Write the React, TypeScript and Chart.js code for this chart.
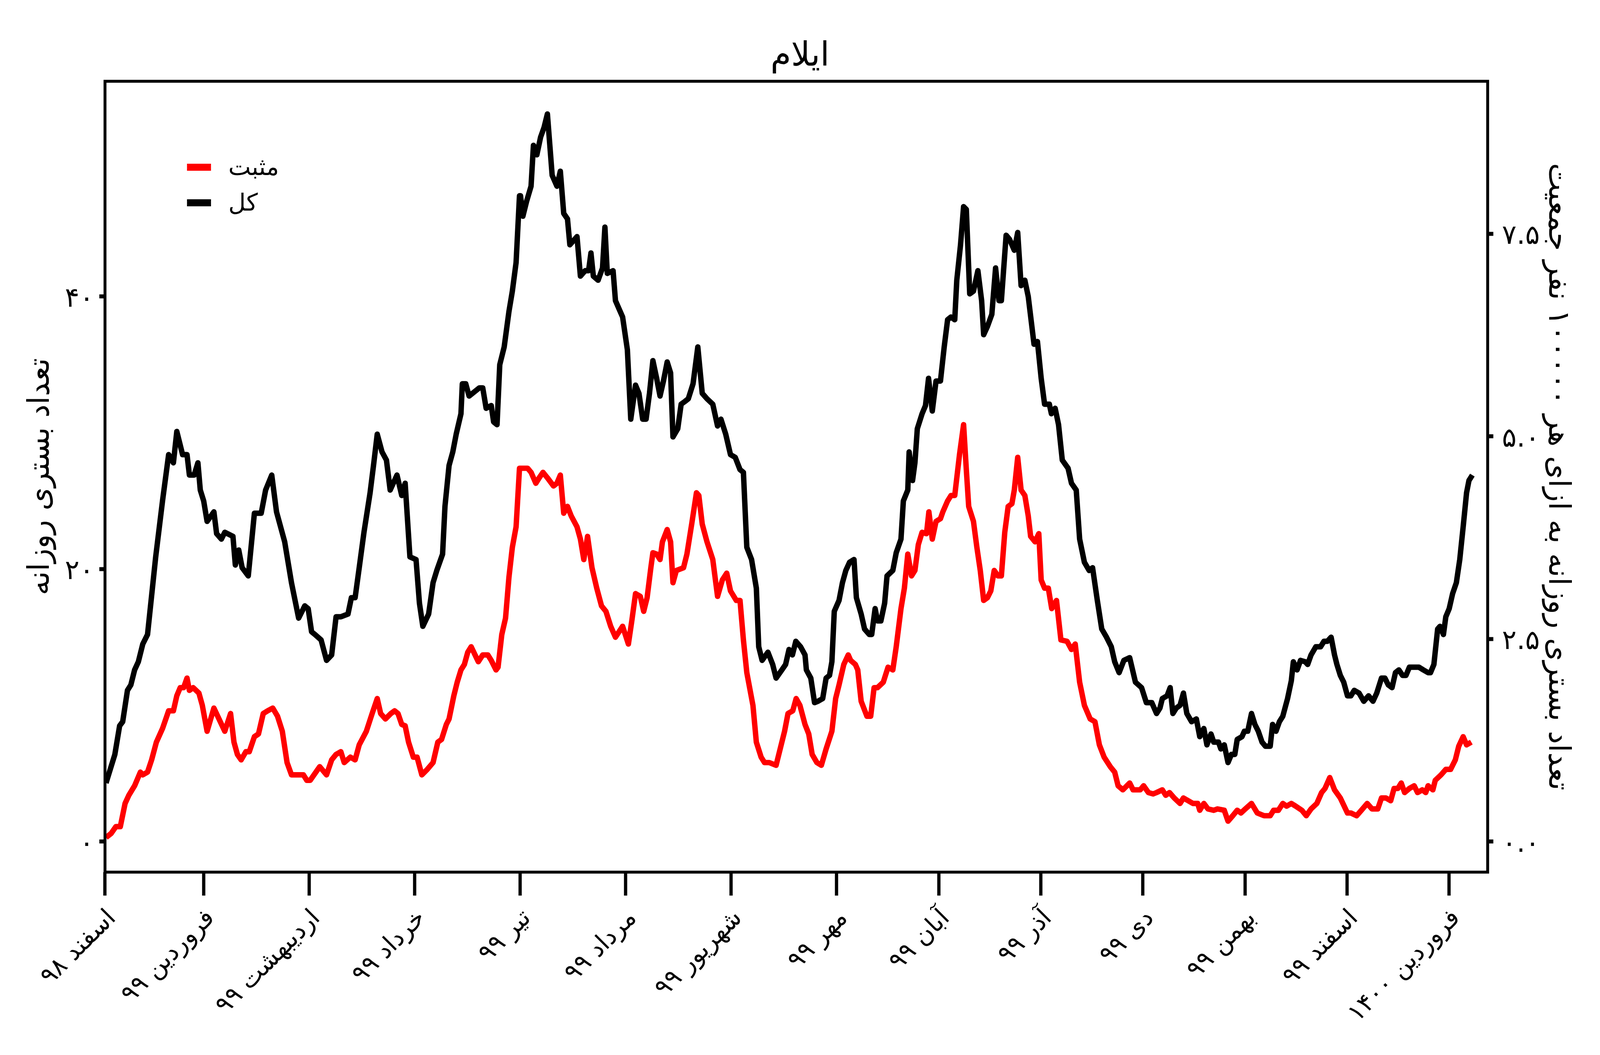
import React, { useEffect, useRef } from 'react';
import Chart from 'chart.js/auto';

const FONT = '"DejaVu Sans", sans-serif';

// days counted from 1 Esfand 1398
const monthStartDays = [0, 29, 60, 91, 122, 153, 184, 215, 245, 275, 305, 335, 365, 395];
const monthLabels = [
  'اسفند ۹۸', 'فروردین ۹۹', 'اردیبهشت ۹۹', 'خرداد ۹۹', 'تیر ۹۹', 'مرداد ۹۹', 'شهریور ۹۹',
  'مهر ۹۹', 'آبان ۹۹', 'آذر ۹۹', 'دی ۹۹', 'بهمن ۹۹', 'اسفند ۹۹', 'فروردین ۱۴۰۰',
];

const countTicks = [0, 20, 40];
const countTickLabels = ['۰', '۲۰', '۴۰'];
const rateTicks = [0, 2.5, 5, 7.5];
const rateTickLabels = ['۰.۰', '۲.۵', '۵.۰', '۷.۵'];

const seriesLabels = ['مثبت', 'کل'];
const seriesColors = ['#ff0000', '#000000'];

// [day, daily hospitalised]
const positivePoints: [number, number][] = [
  [0.3, 0.3], [1.8, 0.6], [3.2, 1.1], [4.5, 1.1], [5.9, 2.8], [7.0, 3.4], [8.7, 4.1], [10.4, 5.1],
  [11.1, 4.9], [12.5, 5.1], [13.7, 6.0], [15.1, 7.3], [16.9, 8.3], [18.7, 9.6], [20.1, 9.6], [21.1, 10.7],
  [22.1, 11.3], [23.1, 11.3], [24.1, 12.0], [24.8, 11.1], [25.9, 11.3], [27.6, 10.9], [28.6, 10.0], [30.0, 8.1],
  [32.0, 9.8], [33.5, 9.0], [35.2, 8.1], [36.9, 9.4], [37.9, 7.3], [38.9, 6.4], [40.0, 6.0], [41.4, 6.6],
  [42.4, 6.6], [43.9, 7.7], [45.1, 7.9], [46.5, 9.4], [47.8, 9.6], [49.3, 9.8], [50.7, 9.2], [52.1, 8.1],
  [53.5, 5.8], [54.8, 4.9], [56.9, 4.9], [58.3, 4.9], [59.3, 4.5], [60.3, 4.5], [63.1, 5.5], [65.1, 4.9],
  [66.6, 6.0], [67.9, 6.4], [69.3, 6.6], [70.3, 5.8], [72.1, 6.2], [73.5, 6.0], [74.7, 7.1], [76.8, 8.1],
  [78.5, 9.4], [80.0, 10.5], [81.0, 9.4], [82.4, 9.0], [84.0, 9.4], [85.1, 9.6], [86.1, 9.4], [87.2, 8.6],
  [88.2, 8.5], [89.2, 7.3], [90.6, 6.2], [91.7, 6.2], [93.1, 4.9], [94.7, 5.3], [96.4, 5.8], [97.8, 7.3],
  [98.9, 7.5], [100.3, 8.6], [101.1, 9.0], [102.5, 10.7], [103.5, 11.7], [104.6, 12.6], [105.6, 13.0], [106.6, 13.9],
  [107.6, 14.3], [109.7, 13.2], [111.0, 13.7], [112.5, 13.7], [113.5, 13.3], [114.9, 12.6], [115.5, 12.8], [116.6, 15.2],
  [117.7, 16.4], [118.7, 19.4], [119.7, 21.6], [120.8, 23.1], [121.8, 27.4], [123.2, 27.4], [124.2, 27.4], [125.2, 27.1],
  [126.6, 26.3], [127.6, 26.7], [128.7, 27.1], [130.0, 26.7], [131.8, 26.1], [132.8, 26.3], [133.8, 26.9], [134.8, 24.1],
  [135.9, 24.6], [137.0, 23.9], [138.7, 23.1], [139.7, 22.2], [140.7, 20.7], [141.8, 22.4], [143.1, 20.1], [144.5, 18.6],
  [145.9, 17.3], [147.2, 16.9], [148.6, 15.8], [150.0, 15.0], [152.1, 15.8], [153.8, 14.5], [154.8, 16.2], [155.9, 18.2],
  [157.3, 18.0], [158.3, 16.9], [159.3, 17.9], [160.4, 20.1], [161.0, 21.2], [162.1, 21.1], [163.1, 20.7], [163.8, 22.0],
  [165.2, 22.9], [166.2, 22.0], [166.9, 19.0], [167.9, 19.9], [170.0, 20.1], [171.0, 21.1], [172.4, 23.3], [173.8, 25.6],
  [174.5, 25.4], [175.5, 23.3], [176.9, 22.0], [178.6, 20.7], [180.0, 18.0], [181.4, 19.2], [182.7, 19.7], [183.8, 18.4],
  [185.5, 17.7], [186.6, 17.7], [187.6, 14.8], [188.6, 12.4], [190.4, 10.0], [191.4, 7.3], [192.8, 6.2], [193.8, 5.8],
  [195.2, 5.8], [197.2, 5.6], [198.6, 7.0], [199.7, 8.1], [200.7, 9.4], [202.1, 9.6], [203.1, 10.5], [204.2, 10.0],
  [205.7, 8.6], [206.8, 7.9], [207.8, 6.4], [209.2, 5.8], [210.5, 5.6], [211.9, 6.8], [213.6, 8.1], [214.7, 10.5],
  [215.7, 11.5], [217.1, 13.0], [218.4, 13.7], [219.1, 13.3], [220.5, 13.0], [221.2, 12.6], [222.2, 10.3], [223.9, 9.2],
  [225.0, 9.2], [226.0, 11.3], [227.0, 11.3], [228.7, 11.7], [230.1, 12.8], [231.5, 12.6], [232.5, 14.3], [233.9, 17.1],
  [234.9, 18.6], [235.9, 21.1], [237.0, 19.5], [238.0, 19.9], [239.0, 21.8], [240.1, 22.7], [241.4, 22.6], [242.1, 24.2],
  [243.1, 22.2], [244.2, 23.5], [245.5, 23.7], [246.2, 24.2], [247.6, 25.0], [248.6, 25.4], [249.7, 25.4], [251.1, 28.4],
  [252.3, 30.6], [253.1, 27.3], [253.8, 24.6], [255.2, 23.5], [256.2, 21.6], [257.2, 19.9], [258.2, 17.7], [259.3, 17.9],
  [260.3, 18.4], [261.3, 19.9], [262.4, 19.5], [263.4, 19.5], [264.4, 22.7], [265.4, 24.6], [266.5, 24.8], [267.2, 25.8],
  [268.2, 28.2], [269.2, 25.8], [270.3, 25.4], [271.3, 23.9], [272.0, 22.4], [273.3, 22.0], [274.4, 22.6], [275.1, 19.2],
  [276.1, 18.6], [277.2, 18.6], [278.2, 17.1], [279.6, 17.7], [280.9, 14.8], [282.7, 14.7], [284.0, 14.1], [285.1, 14.5],
  [286.4, 11.7], [287.8, 10.0], [289.5, 9.0], [290.9, 8.8], [292.2, 7.1], [293.6, 6.2], [295.4, 5.5], [296.7, 5.1],
  [297.7, 4.1], [299.1, 3.8], [301.1, 4.3], [302.1, 3.8], [304.2, 3.8], [305.2, 4.1], [306.6, 3.6], [308.0, 3.5],
  [309.0, 3.6], [310.7, 3.8], [311.7, 3.4], [312.8, 3.6], [314.2, 3.2], [315.9, 2.8], [316.9, 3.2], [318.3, 3.0],
  [319.7, 2.8], [321.1, 2.8], [321.7, 2.3], [322.9, 2.8], [324.1, 2.4], [325.8, 2.3], [326.9, 2.4], [328.9, 2.3],
  [330.0, 1.5], [331.4, 1.9], [332.7, 2.3], [333.8, 2.1], [335.1, 2.4], [336.9, 2.8], [338.6, 2.1], [340.6, 1.9],
  [342.4, 1.9], [343.4, 2.3], [344.8, 2.3], [346.1, 2.8], [347.2, 2.6], [348.6, 2.8], [349.9, 2.6], [351.7, 2.3],
  [353.0, 1.9], [354.4, 2.4], [356.1, 2.8], [357.5, 3.6], [358.5, 3.9], [359.9, 4.7], [361.3, 3.8], [363.0, 3.2],
  [365.1, 2.1], [366.1, 2.1], [367.8, 1.9], [369.2, 2.3], [370.9, 2.8], [372.3, 2.4], [374.0, 2.4], [375.1, 3.2],
  [376.4, 3.2], [377.8, 3.0], [378.8, 3.9], [379.9, 3.9], [380.9, 4.3], [381.9, 3.6], [383.3, 3.9], [384.7, 4.1],
  [385.7, 3.6], [387.1, 3.8], [388.1, 3.6], [388.8, 4.1], [390.2, 3.8], [390.9, 4.5], [392.6, 4.9], [394.0, 5.3],
  [395.4, 5.3], [396.8, 6.0], [397.8, 7.0], [399.1, 7.7], [400.1, 7.1], [401.5, 7.3],
];

const totalPoints: [number, number][] = [
  [0.3, 4.3], [2.9, 6.4], [4.3, 8.5], [5.2, 8.8], [6.6, 11.1], [7.6, 11.5], [8.7, 12.6], [9.8, 13.2],
  [11.1, 14.5], [12.5, 15.2], [14.9, 20.9], [16.9, 25.0], [18.7, 28.4], [20.1, 27.8], [21.1, 30.1], [22.8, 28.4],
  [24.1, 28.4], [24.8, 26.9], [26.2, 26.9], [27.3, 27.8], [28.0, 25.8], [29.0, 25.0], [30.0, 23.5], [32.0, 24.2],
  [32.8, 22.6], [34.2, 22.2], [35.2, 22.7], [37.6, 22.4], [38.3, 20.3], [39.3, 21.4], [40.3, 20.1], [42.1, 19.5],
  [43.9, 24.1], [45.9, 24.1], [47.2, 25.8], [49.0, 26.9], [50.4, 24.2], [52.8, 22.0], [54.8, 19.0], [56.9, 16.4],
  [58.7, 17.3], [59.7, 17.1], [60.7, 15.4], [61.7, 15.2], [63.5, 14.8], [65.1, 13.3], [66.6, 13.7], [67.9, 16.5],
  [69.3, 16.5], [71.4, 16.7], [72.4, 17.9], [73.5, 17.9], [74.7, 20.1], [76.1, 22.7], [77.9, 25.6], [78.9, 27.6],
  [80.0, 29.9], [81.4, 28.6], [82.7, 28.0], [83.8, 25.8], [85.8, 26.9], [87.2, 25.4], [88.2, 26.3], [89.6, 20.9],
  [91.4, 20.7], [92.4, 17.5], [93.4, 15.8], [95.1, 16.7], [96.4, 19.0], [97.5, 19.9], [99.2, 21.1], [99.9, 24.6],
  [101.1, 27.6], [102.2, 28.6], [103.2, 29.9], [104.6, 31.4], [105.0, 33.6], [106.0, 33.6], [107.0, 32.7], [108.0, 32.9],
  [110.0, 33.3], [111.0, 33.3], [112.0, 31.8], [113.5, 32.0], [114.2, 30.8], [115.2, 30.6], [116.0, 35.0], [117.3, 36.3],
  [118.7, 38.9], [119.7, 40.4], [120.8, 42.5], [121.8, 47.4], [122.1, 47.4], [122.8, 45.9], [123.9, 47.0], [125.2, 48.1],
  [125.9, 51.1], [126.9, 50.4], [128.0, 51.7], [129.0, 52.4], [130.0, 53.4], [131.4, 48.9], [132.8, 48.1], [133.8, 49.2],
  [134.8, 46.1], [135.9, 45.7], [136.6, 43.8], [138.7, 44.4], [139.7, 41.5], [141.1, 41.9], [142.1, 41.9], [142.8, 43.2],
  [143.5, 41.5], [144.9, 41.2], [146.2, 42.1], [146.9, 45.1], [147.6, 41.7], [149.3, 41.9], [150.0, 39.7], [151.4, 38.9],
  [152.1, 38.5], [153.5, 36.1], [154.5, 31.0], [155.9, 33.5], [156.9, 32.9], [158.0, 31.0], [159.0, 31.0], [160.0, 32.9],
  [161.0, 35.3], [162.1, 34.0], [163.1, 32.7], [164.1, 33.8], [165.2, 35.2], [166.2, 34.4], [166.9, 29.7], [168.3, 30.3],
  [169.3, 32.1], [170.4, 32.3], [171.4, 32.5], [172.8, 33.6], [174.2, 36.3], [175.5, 32.9], [176.9, 32.5], [178.6, 32.1],
  [180.0, 30.5], [181.0, 31.0], [182.4, 29.9], [183.8, 28.4], [185.2, 28.2], [186.6, 27.3], [187.6, 27.1], [188.6, 21.6],
  [190.0, 20.7], [191.4, 18.6], [192.1, 14.3], [193.1, 13.3], [194.8, 13.9], [196.2, 13.0], [197.2, 12.0], [198.9, 12.6],
  [200.0, 13.0], [201.0, 14.1], [202.0, 13.7], [203.0, 14.7], [204.4, 14.3], [205.7, 13.7], [206.1, 12.6], [207.4, 12.0],
  [208.5, 10.2], [209.5, 10.3], [210.9, 10.5], [211.9, 12.0], [212.9, 12.2], [213.6, 13.2], [214.3, 16.9], [215.7, 17.7],
  [216.7, 19.0], [217.7, 19.9], [218.8, 20.5], [220.1, 20.7], [220.8, 17.9], [222.2, 16.7], [223.2, 15.6], [224.6, 15.2],
  [225.3, 15.2], [226.3, 17.1], [227.0, 16.2], [228.0, 16.2], [229.1, 17.5], [229.8, 19.5], [231.5, 19.9], [232.5, 21.2],
  [233.9, 22.2], [234.6, 25.0], [235.9, 25.8], [236.3, 28.6], [237.3, 26.5], [238.0, 27.8], [238.7, 30.3], [240.1, 31.4],
  [241.1, 32.0], [242.0, 34.0], [243.1, 31.6], [244.2, 33.8], [245.5, 33.8], [246.6, 36.3], [247.6, 38.3], [248.6, 38.5],
  [249.7, 38.3], [250.3, 41.2], [251.4, 43.8], [252.3, 46.6], [253.1, 46.4], [254.1, 40.2], [255.2, 40.4], [256.5, 41.9],
  [257.6, 39.7], [258.2, 37.2], [259.3, 37.8], [260.6, 38.7], [261.7, 42.1], [262.7, 39.7], [263.4, 39.7], [264.8, 44.5],
  [265.8, 44.2], [267.2, 43.4], [268.2, 44.7], [269.2, 40.8], [270.3, 41.2], [271.3, 40.0], [273.0, 36.5], [274.0, 36.7],
  [275.1, 34.0], [276.1, 32.1], [277.5, 32.1], [278.1, 31.4], [279.2, 31.8], [280.2, 30.6], [281.3, 28.0], [283.0, 27.4],
  [284.0, 26.3], [285.4, 25.8], [286.4, 22.2], [287.8, 20.5], [289.2, 19.9], [290.2, 20.1], [291.6, 17.7], [292.9, 15.6],
  [294.3, 15.0], [295.7, 14.3], [296.7, 13.2], [298.0, 12.4], [299.4, 13.3], [301.1, 13.5], [302.8, 11.7], [304.6, 11.3],
  [306.0, 10.2], [307.6, 10.2], [309.0, 9.4], [310.0, 9.8], [310.7, 10.5], [312.1, 10.7], [313.0, 11.3], [313.8, 9.4],
  [314.8, 9.8], [315.9, 10.0], [316.9, 10.9], [317.9, 9.4], [319.3, 8.8], [320.7, 9.0], [321.7, 7.7], [322.9, 8.3],
  [323.8, 7.1], [325.0, 7.9], [325.8, 7.3], [327.2, 7.3], [327.9, 6.8], [328.9, 7.1], [330.0, 5.8], [331.0, 6.4],
  [332.0, 6.4], [332.7, 7.5], [334.1, 7.7], [334.8, 8.1], [335.8, 8.1], [336.9, 9.4], [337.9, 8.6], [338.9, 8.1],
  [340.0, 7.3], [341.0, 7.0], [342.4, 7.0], [343.1, 8.6], [344.1, 8.1], [345.1, 8.8], [346.1, 9.2], [347.5, 10.5],
  [348.6, 11.8], [349.2, 13.2], [350.3, 12.6], [351.3, 13.3], [352.7, 13.2], [353.4, 13.0], [354.4, 13.7], [355.8, 14.3],
  [357.2, 14.3], [358.2, 14.7], [359.2, 14.7], [360.3, 15.0], [361.3, 13.7], [362.0, 13.0], [363.0, 12.2], [364.0, 11.7],
  [365.1, 10.7], [366.1, 10.7], [367.1, 11.1], [368.5, 10.9], [369.9, 10.3], [371.3, 10.7], [372.6, 10.3], [373.7, 10.9],
  [375.1, 12.0], [376.1, 12.0], [377.1, 11.5], [378.2, 11.3], [379.2, 12.4], [380.2, 12.6], [381.3, 12.2], [382.3, 12.2],
  [383.3, 12.8], [384.7, 12.8], [386.1, 12.8], [387.4, 12.6], [388.8, 12.4], [389.5, 12.4], [390.5, 13.0], [391.6, 15.6],
  [392.3, 15.8], [393.3, 15.2], [394.0, 16.5], [395.0, 17.1], [396.0, 18.2], [397.1, 19.0], [398.1, 20.7], [399.1, 23.1],
  [400.1, 25.6], [400.8, 26.5], [401.8, 26.9],
];

const COUNT_MIN = -2.24;
const COUNT_MAX = 55.8;
const PER_100K = 0.1681; // 100000 / population
const DAY_MAX = 406.3;

const App: React.FC = () => {
  const canvasRef = useRef<HTMLCanvasElement>(null);
  const chartRef = useRef<Chart>();

  useEffect(() => {
    if (!canvasRef.current) return;
    const ctx = canvasRef.current.getContext('2d');
    if (!ctx) return;
    if (chartRef.current) chartRef.current.destroy();

    // layout was measured on a 4800x2700 picture; scale it to the real viewport
    const parent = canvasRef.current.parentElement as HTMLElement;
    const sx = parent.clientWidth / 4800;
    const sy = parent.clientHeight / 2700;
    const sf = (sx + sy) / 2;

    Chart.defaults.font.family = FONT;
    Chart.defaults.color = '#000';

    const xTickFont = { family: FONT, size: 68 * sf };
    const yTickFont = { family: FONT, size: 75 * sf };
    const axisTitleFont = { family: FONT, size: 82 * sf };
    const titleSize = 92 * sf;
    const titleLine = titleSize * 1.2;
    const titleTop = Math.max(0, 146 * sy - titleLine / 2);
    const titleBottom = Math.max(0, 208 * sy - titleTop - titleLine);
    const lineW = 15 * sf;

    // plot frame drawn over the lines, like the spines
    const framePlugin = {
      id: 'frame',
      afterDatasetsDraw(chart: Chart) {
        const { ctx: c, chartArea } = chart;
        c.save();
        c.strokeStyle = '#000';
        c.lineWidth = 8 * sf;
        c.strokeRect(chartArea.left, chartArea.top, chartArea.right - chartArea.left, chartArea.bottom - chartArea.top);
        c.restore();
      },
    };

    // legend sitting inside the plot, upper left
    const insideLegend = {
      id: 'insideLegend',
      afterDraw(chart: Chart) {
        const { ctx: c, chartArea } = chart;
        c.save();
        c.font = `${66 * sf}px ${FONT}`;
        c.textBaseline = 'middle';
        c.textAlign = 'left';
        chart.data.datasets.forEach((ds: any, i: number) => {
          const y = chartArea.top + (220 + i * 91) * sy;
          c.fillStyle = ds.borderColor;
          c.fillRect(chartArea.left + 246 * sx, y - 9 * sy, 72 * sx, 18 * sy);
          c.fillStyle = '#000';
          c.fillText(ds.label, chartArea.left + 370 * sx, y + 4 * sy);
        });
        c.restore();
      },
    };

    chartRef.current = new Chart(ctx, {
      type: 'line',
      data: {
        datasets: [
          {
            label: seriesLabels[0],
            data: positivePoints.map(([x, y]) => ({ x, y })),
            borderColor: seriesColors[0],
            borderWidth: lineW,
            pointRadius: 0,
            tension: 0,
            borderJoinStyle: 'round',
            yAxisID: 'y',
          },
          {
            label: seriesLabels[1],
            data: totalPoints.map(([x, y]) => ({ x, y })),
            borderColor: seriesColors[1],
            borderWidth: lineW,
            pointRadius: 0,
            tension: 0,
            borderJoinStyle: 'round',
            yAxisID: 'y',
          },
        ],
      },
      options: {
        animation: false,
        responsive: true,
        maintainAspectRatio: false,
        layout: { padding: 0 },
        plugins: {
          legend: { display: false },
          tooltip: { enabled: false },
          title: {
            display: true,
            text: 'ایلام',
            color: '#000',
            font: { family: FONT, size: titleSize, weight: 'normal', lineHeight: 1.2 },
            padding: { top: titleTop, bottom: titleBottom },
          },
        },
        scales: {
          x: {
            type: 'linear',
            min: 0,
            max: DAY_MAX,
            bounds: 'data',
            afterBuildTicks: (scale: any) => {
              scale.ticks = monthStartDays.map((value) => ({ value }));
            },
            afterFit: (scale: any) => {
              scale.height = 468 * sy;
            },
            ticks: {
              autoSkip: false,
              minRotation: 45,
              maxRotation: 45,
              padding: 22 * sy,
              labelOffset: 22 * sx,
              color: '#000',
              font: xTickFont,
              callback: (_v: any, i: number) => monthLabels[i],
            },
            grid: {
              drawOnChartArea: false,
              drawTicks: true,
              tickLength: 60 * sy,
              tickWidth: 9 * sf,
              tickColor: '#000',
              offset: false,
            },
            border: { display: false },
          },
          y: {
            type: 'linear',
            position: 'left',
            min: COUNT_MIN,
            max: COUNT_MAX,
            bounds: 'data',
            afterBuildTicks: (scale: any) => {
              scale.ticks = countTicks.map((value) => ({ value }));
            },
            afterFit: (scale: any) => {
              scale.width = 315 * sx;
            },
            ticks: {
              padding: 16 * sx,
              labelOffset: 8 * sy,
              color: '#000',
              font: yTickFont,
              callback: (_v: any, i: number) => countTickLabels[i],
            },
            grid: { drawOnChartArea: false, drawTicks: true, tickLength: 17 * sx, tickWidth: 11 * sf, tickColor: '#000' },
            border: { display: false },
            title: {
              display: true,
              text: 'تعداد بستری روزانه',
              color: '#000',
              font: axisTitleFont,
              padding: { top: 70 * sx, bottom: 0 },
            },
          },
          y2: {
            type: 'linear',
            position: 'right',
            display: true,
            min: COUNT_MIN * PER_100K,
            max: COUNT_MAX * PER_100K,
            bounds: 'data',
            afterBuildTicks: (scale: any) => {
              scale.ticks = rateTicks.map((value) => ({ value }));
            },
            afterFit: (scale: any) => {
              scale.width = 337 * sx;
            },
            ticks: {
              padding: 26 * sx,
              labelOffset: 8 * sy,
              color: '#000',
              font: yTickFont,
              callback: (_v: any, i: number) => rateTickLabels[i],
            },
            grid: { drawOnChartArea: false, drawTicks: true, tickLength: 17 * sx, tickWidth: 11 * sf, tickColor: '#000' },
            border: { display: false },
            title: {
              display: true,
              text: 'تعداد بستری روزانه به ازای هر ۱۰۰۰۰۰ نفر جمعیت',
              color: '#000',
              font: axisTitleFont,
              padding: { top: 76 * sx, bottom: 0 },
            },
          },
        },
      },
      plugins: [framePlugin, insideLegend],
    } as any);

    return () => {
      if (chartRef.current) {
        chartRef.current.destroy();
        chartRef.current = undefined;
      }
    };
  }, []);

  return (
    <div style={{ position: 'fixed', left: 0, top: 0, width: '100vw', height: '100vh', background: '#fff' }}>
      <canvas ref={canvasRef}></canvas>
    </div>
  );
};

export default App;
